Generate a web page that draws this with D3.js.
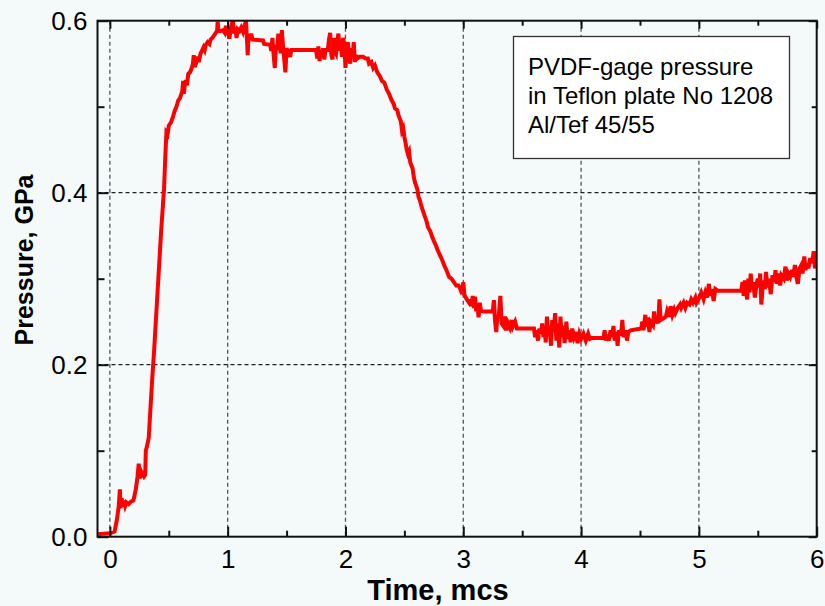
<!DOCTYPE html>
<html>
<head>
<meta charset="utf-8">
<script src="https://cdn.jsdelivr.net/npm/d3@7"></script>
<style>
  html, body { margin: 0; padding: 0; background: #f4fafa; }
  svg { display: block; }
  text { font-family: "Liberation Sans", Arial, Helvetica, sans-serif; fill: #000; }
</style>
</head>
<body>
<svg id="chart" width="825" height="606"></svg>
<script>
// Time samples of the PVDF gage record, mcs
const timeMcs = [
  -0.10, 0.00, 0.04, 0.06, 0.075, 0.085, 0.09, 0.10, 0.11, 0.12, 0.13, 0.14, 0.16, 0.18, 0.20,
  0.22, 0.235, 0.245, 0.255, 0.27, 0.29, 0.30, 0.305, 0.315, 0.33, 0.345, 0.36, 0.375, 0.39,
  0.405, 0.42, 0.435, 0.45, 0.46, 0.47, 0.48, 0.49, 0.50, 0.52, 0.535, 0.55, 0.565, 0.58, 0.595,
  0.605, 0.615, 0.622, 0.628, 0.635, 0.645, 0.655, 0.665, 0.68, 0.695, 0.705, 0.712, 0.72, 0.735,
  0.745, 0.755, 0.77, 0.785, 0.795, 0.805, 0.815, 0.83, 0.845, 0.855, 0.87, 0.885, 0.90, 0.91,
  0.915, 0.922, 0.94, 0.96, 0.975, 0.985, 0.995, 1.005, 1.015, 1.025, 1.035, 1.045, 1.055, 1.065,
  1.075, 1.085, 1.10, 1.115, 1.13, 1.145, 1.155, 1.165, 1.17, 1.178, 1.19, 1.20, 1.21, 1.22, 1.30,
  1.31, 1.36, 1.37, 1.38, 1.39, 1.40, 1.41, 1.42, 1.43, 1.44, 1.45, 1.46, 1.47, 1.48, 1.49, 1.50,
  1.52, 1.53, 1.54, 1.55, 1.75, 1.76, 1.77, 1.78, 1.79, 1.80, 1.81, 1.82, 1.83, 1.85, 1.86, 1.87,
  1.88, 1.89, 1.90, 1.91, 1.92, 1.93, 1.94, 1.95, 1.96, 1.97, 1.98, 1.99, 2.00, 2.01, 2.02, 2.03,
  2.04, 2.05, 2.06, 2.07, 2.08, 2.09, 2.10, 2.12, 2.15, 2.17, 2.19, 2.20, 2.22, 2.235, 2.25, 2.27,
  2.29, 2.31, 2.33, 2.35, 2.37, 2.39, 2.41, 2.42, 2.44, 2.45, 2.47, 2.48, 2.49, 2.50, 2.51, 2.52,
  2.53, 2.54, 2.55, 2.57, 2.58, 2.59, 2.60, 2.61, 2.62, 2.63, 2.645, 2.66, 2.67, 2.69, 2.70, 2.72,
  2.735, 2.75, 2.77, 2.78, 2.80, 2.82, 2.84, 2.86, 2.88, 2.90, 2.92, 2.94, 2.96, 2.975, 2.99, 3.00,
  3.01, 3.03, 3.05, 3.06, 3.07, 3.08, 3.09, 3.10, 3.11, 3.12, 3.13, 3.14, 3.15, 3.17, 3.25, 3.26,
  3.27, 3.28, 3.29, 3.30, 3.315, 3.325, 3.34, 3.355, 3.365, 3.38, 3.395, 3.41, 3.42, 3.44, 3.455,
  3.47, 3.60, 3.61, 3.62, 3.635, 3.645, 3.66, 3.67, 3.68, 3.69, 3.70, 3.71, 3.72, 3.73, 3.745,
  3.755, 3.765, 3.78, 3.79, 3.80, 3.815, 3.825, 3.835, 3.85, 3.86, 3.875, 3.885, 3.90, 3.91, 3.925,
  3.94, 3.955, 3.97, 3.985, 4.00, 4.02, 4.04, 4.06, 4.075, 4.09, 4.19, 4.20, 4.21, 4.22, 4.235,
  4.25, 4.26, 4.275, 4.285, 4.30, 4.31, 4.32, 4.34, 4.35, 4.36, 4.38, 4.39, 4.40, 4.42, 4.51, 4.52,
  4.53, 4.545, 4.555, 4.565, 4.58, 4.59, 4.61, 4.62, 4.63, 4.64, 4.655, 4.665, 4.675, 4.70, 4.72,
  4.73, 4.745, 4.76, 4.775, 4.79, 4.80, 4.82, 4.84, 4.85, 4.87, 4.885, 4.90, 4.92, 4.935, 4.95,
  4.97, 4.98, 5.00, 5.02, 5.04, 5.055, 5.07, 5.085, 5.095, 5.11, 5.125, 5.14, 5.16, 5.36, 5.37,
  5.38, 5.39, 5.40, 5.41, 5.42, 5.43, 5.44, 5.45, 5.46, 5.475, 5.49, 5.50, 5.51, 5.52, 5.53, 5.545,
  5.56, 5.57, 5.58, 5.595, 5.61, 5.625, 5.64, 5.65, 5.66, 5.68, 5.69, 5.70, 5.72, 5.735, 5.745,
  5.76, 5.775, 5.79, 5.80, 5.815, 5.83, 5.84, 5.855, 5.87, 5.88, 5.895, 5.905, 5.92, 5.93, 5.945,
  5.96, 5.975, 5.985, 6.00
];

// Gage pressure at each time sample, GPa
const pressureGPa = [
  0.003, 0.004, 0.006, 0.020, 0.035, 0.055, 0.033, 0.045, 0.035, 0.042, 0.036, 0.040, 0.038, 0.041, 0.042,
  0.055, 0.070, 0.085, 0.068, 0.075, 0.070, 0.072, 0.100, 0.105, 0.115, 0.150, 0.185, 0.215, 0.250,
  0.285, 0.320, 0.355, 0.385, 0.405, 0.440, 0.470, 0.468, 0.478, 0.482, 0.488, 0.495, 0.500, 0.507, 0.510,
  0.514, 0.518, 0.530, 0.515, 0.524, 0.531, 0.525, 0.538, 0.540, 0.545, 0.550, 0.560, 0.546, 0.552,
  0.558, 0.552, 0.562, 0.566, 0.569, 0.566, 0.572, 0.575, 0.573, 0.578, 0.580, 0.583, 0.586, 0.588,
  0.599, 0.588, 0.588, 0.589, 0.586, 0.594, 0.583, 0.592, 0.579, 0.590, 0.596, 0.600, 0.585, 0.592,
  0.580, 0.590, 0.588, 0.592, 0.587, 0.595, 0.600, 0.575, 0.560, 0.585, 0.578, 0.585, 0.578, 0.578, 0.577,
  0.573, 0.572, 0.565, 0.580, 0.560, 0.545, 0.572, 0.566, 0.585, 0.575, 0.562, 0.589, 0.570, 0.555, 0.540, 0.568,
  0.562, 0.558, 0.566, 0.566, 0.566, 0.556, 0.570, 0.553, 0.566, 0.560, 0.568, 0.555, 0.566, 0.566, 0.578, 0.586,
  0.560, 0.555, 0.580, 0.565, 0.562, 0.576, 0.585, 0.565, 0.578, 0.558, 0.580, 0.572, 0.545, 0.568, 0.575, 0.560,
  0.550, 0.568, 0.558, 0.575, 0.552, 0.560, 0.556, 0.558, 0.558, 0.556, 0.556, 0.550, 0.552, 0.545, 0.548, 0.540,
  0.536, 0.530, 0.528, 0.520, 0.515, 0.508, 0.503, 0.498, 0.496, 0.490, 0.483, 0.472, 0.475, 0.465, 0.458, 0.450,
  0.445, 0.448, 0.435, 0.428, 0.418, 0.412, 0.408, 0.404, 0.395, 0.392, 0.384, 0.378, 0.374, 0.366, 0.360, 0.355,
  0.349, 0.344, 0.338, 0.334, 0.328, 0.322, 0.315, 0.309, 0.302, 0.300, 0.296, 0.292, 0.292, 0.288, 0.282, 0.296,
  0.281, 0.276, 0.272, 0.276, 0.268, 0.280, 0.266, 0.279, 0.262, 0.270, 0.255, 0.272, 0.263, 0.262, 0.262, 0.275,
  0.250, 0.238, 0.258, 0.254, 0.280, 0.248, 0.245, 0.256, 0.240, 0.248, 0.243, 0.252, 0.244, 0.250, 0.242,
  0.242, 0.242, 0.232, 0.240, 0.228, 0.242, 0.236, 0.248, 0.232, 0.242, 0.226, 0.256, 0.235, 0.245, 0.222,
  0.252, 0.238, 0.260, 0.228, 0.248, 0.220, 0.256, 0.232, 0.245, 0.225, 0.250, 0.230, 0.240, 0.226, 0.242,
  0.232, 0.238, 0.225, 0.236, 0.230, 0.236, 0.228, 0.236, 0.230, 0.231, 0.231, 0.240, 0.228, 0.235, 0.228,
  0.240, 0.232, 0.245, 0.228, 0.238, 0.222, 0.240, 0.234, 0.252, 0.232, 0.240, 0.228, 0.238, 0.240, 0.242, 0.250,
  0.240, 0.258, 0.244, 0.255, 0.238, 0.250, 0.246, 0.262, 0.248, 0.256, 0.248, 0.276, 0.252, 0.254, 0.256,
  0.262, 0.256, 0.268, 0.258, 0.264, 0.260, 0.266, 0.270, 0.266, 0.272, 0.266, 0.272, 0.270, 0.276, 0.272,
  0.278, 0.272, 0.277, 0.284, 0.276, 0.284, 0.278, 0.294, 0.280, 0.288, 0.274, 0.288, 0.286, 0.286, 0.296,
  0.280, 0.298, 0.284, 0.276, 0.300, 0.284, 0.306, 0.288, 0.296, 0.278, 0.294, 0.300, 0.290, 0.306, 0.270, 0.298,
  0.288, 0.308, 0.290, 0.300, 0.282, 0.304, 0.296, 0.310, 0.294, 0.306, 0.292, 0.304, 0.300, 0.314, 0.298,
  0.306, 0.302, 0.310, 0.302, 0.316, 0.300, 0.294, 0.312, 0.316, 0.306, 0.326, 0.310, 0.318, 0.312, 0.324,
  0.318, 0.332, 0.312, 0.324
];

const xTicks = [0, 1, 2, 3, 4, 5, 6];
const xMinorTicks = [0.5, 1.5, 2.5, 3.5, 4.5, 5.5];
const yTicks = [0.0, 0.2, 0.4, 0.6];
const yMinorTicks = [0.1, 0.3, 0.5];
const xGrid = [0, 1, 2, 3, 4, 5];
const yGrid = [0.2, 0.4];
const legendLines = ["PVDF-gage pressure", "in Teflon plate No 1208", "Al/Tef 45/55"];
const xTitle = "Time, mcs";
const yTitle = "Pressure, GPa";

const svg = d3.select("#chart");
const W = 825, H = 606;
const plot = { left: 97.5, right: 816.7, top: 20.7, bottom: 536.7 };

svg.append("rect").attr("width", W).attr("height", H).attr("fill", "#f4fafa");

const x = d3.scaleLinear().domain([-0.105, 6]).range([plot.left, plot.right]);
const y = d3.scaleLinear().domain([0, 0.6]).range([plot.bottom, plot.top]);

// clip region for the trace
svg.append("defs").append("clipPath").attr("id", "plotClip")
  .append("rect")
  .attr("x", plot.left).attr("y", plot.top - 2)
  .attr("width", plot.right - plot.left).attr("height", plot.bottom - plot.top + 2);

// dashed grid
const grid = svg.append("g");
grid.selectAll("line.gx").data(xGrid).join("line")
  .attr("x1", d => x(d)).attr("x2", d => x(d))
  .attr("y1", plot.top).attr("y2", plot.bottom)
  .attr("stroke", "#555").attr("stroke-width", 1.3).attr("stroke-dasharray", "4,3");
grid.selectAll("line.gy").data(yGrid).join("line")
  .attr("x1", plot.left).attr("x2", plot.right)
  .attr("y1", d => y(d)).attr("y2", d => y(d))
  .attr("stroke", "#222").attr("stroke-width", 1.3).attr("stroke-dasharray", "4,3");

// pressure trace
const series = timeMcs.map((t, i) => [t, pressureGPa[i]]);
const line = d3.line().x(d => x(d[0])).y(d => y(d[1]));
svg.append("path")
  .datum(series)
  .attr("clip-path", "url(#plotClip)")
  .attr("d", line)
  .attr("fill", "none")
  .attr("stroke", "#ff0000")
  .attr("stroke-width", 4)
  .attr("stroke-linejoin", "miter")
  .attr("stroke-miterlimit", 4);

// axes with inward ticks, mirrored on top and right
const axisColor = "#111";
function styleAxis(g) {
  g.select(".domain").remove();
  g.selectAll(".tick line").attr("stroke", axisColor).attr("stroke-width", 2);
}
const fontSize = 26;

const xAxis = svg.append("g").attr("transform", `translate(0,${plot.bottom})`)
  .call(d3.axisBottom(x).tickValues(xTicks).tickSizeInner(-10).tickSizeOuter(0).tickPadding(13).tickFormat(d3.format("d")));
styleAxis(xAxis);
xAxis.selectAll("text").attr("font-size", fontSize).attr("font-family", "Liberation Sans, Arial, sans-serif").attr("fill", "#000");

svg.append("g").attr("transform", `translate(0,${plot.bottom})`)
  .call(d3.axisBottom(x).tickValues(xMinorTicks).tickSizeInner(-6).tickSizeOuter(0).tickFormat(""))
  .call(styleAxis);
svg.append("g").attr("transform", `translate(0,${plot.top})`)
  .call(d3.axisTop(x).tickValues(xTicks).tickSizeInner(-8).tickSizeOuter(0).tickFormat(""))
  .call(styleAxis);
svg.append("g").attr("transform", `translate(0,${plot.top})`)
  .call(d3.axisTop(x).tickValues(xMinorTicks).tickSizeInner(-5).tickSizeOuter(0).tickFormat(""))
  .call(styleAxis);

const yAxis = svg.append("g").attr("transform", `translate(${plot.left},0)`)
  .call(d3.axisLeft(y).tickValues(yTicks).tickSizeInner(-11).tickSizeOuter(0).tickPadding(10).tickFormat(d3.format(".1f")));
styleAxis(yAxis);
yAxis.selectAll("text").attr("font-size", fontSize).attr("font-family", "Liberation Sans, Arial, sans-serif").attr("fill", "#000");

svg.append("g").attr("transform", `translate(${plot.left},0)`)
  .call(d3.axisLeft(y).tickValues(yMinorTicks).tickSizeInner(-7).tickSizeOuter(0).tickFormat(""))
  .call(styleAxis);
svg.append("g").attr("transform", `translate(${plot.right},0)`)
  .call(d3.axisRight(y).tickValues(yTicks).tickSizeInner(-8).tickSizeOuter(0).tickFormat(""))
  .call(styleAxis);
svg.append("g").attr("transform", `translate(${plot.right},0)`)
  .call(d3.axisRight(y).tickValues(yMinorTicks).tickSizeInner(-5).tickSizeOuter(0).tickFormat(""))
  .call(styleAxis);

// frame
svg.append("rect")
  .attr("x", plot.left).attr("y", plot.top)
  .attr("width", plot.right - plot.left).attr("height", plot.bottom - plot.top)
  .attr("fill", "none").attr("stroke", axisColor).attr("stroke-width", 2);

// axis titles
svg.append("text")
  .attr("x", 438).attr("y", 600)
  .attr("text-anchor", "middle").attr("font-size", 29).attr("font-weight", "bold")
  .text(xTitle);
svg.append("text")
  .attr("transform", `translate(33,260) rotate(-90)`)
  .attr("text-anchor", "middle").attr("font-size", 25).attr("font-weight", "bold")
  .text(yTitle);

// annotation box
const box = svg.append("g");
box.append("rect")
  .attr("x", 513.5).attr("y", 36.5).attr("width", 276).attr("height", 122)
  .attr("fill", "#ffffff").attr("stroke", "#333").attr("stroke-width", 1.3);
box.selectAll("text").data(legendLines).join("text")
  .attr("x", 528).attr("y", (d, i) => 75 + i * 29)
  .attr("font-size", 24)
  .text(d => d);
</script>
</body>
</html>
